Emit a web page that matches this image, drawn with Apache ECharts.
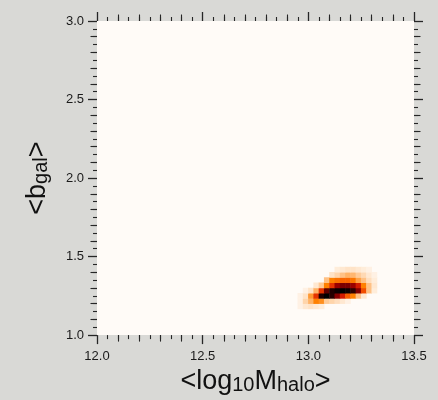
<!DOCTYPE html>
<html><head><meta charset="utf-8">
<script src="https://cdn.jsdelivr.net/npm/echarts@6/dist/echarts.min.js"></script>
<style>html,body{margin:0;padding:0;background:#d9d9d6;}#c{width:438px;height:400px;}</style>
</head><body><div id="c"></div>
<script>
// Axis ranges and tick labels
const xRange = [12.0, 13.5];
const yRange = [1.0, 3.0];
const xTickLabels = ['12.0', '12.5', '13.0', '13.5'];
const yTickLabels = ['1.0', '1.5', '2.0', '2.5', '3.0'];
// Histogram binning: 60 x 60 cells over the plot range
const xBinCount = 60;
const yBinCount = 60;
// Non-empty block of the 2D density, first column/row bin index
const blockCol0 = 38;
const blockRow0 = 5;
// density rows, from lower y bin upward; columns from blockCol0
const density = [
  [0.02,0.04,0.05,0.04,0.03,0,0,0,0,0,0,0,0,0,0,0],
  [0.02,0.08,0.15,0.25,0.22,0.10,0.08,0.06,0.04,0.02,0,0,0,0,0,0],
  [0.02,0.05,0.20,0.40,0.92,1.00,0.90,0.65,0.45,0.32,0.25,0.12,0.04,0,0,0],
  [0,0.02,0.05,0.15,0.40,0.75,0.92,0.97,1.00,0.97,0.88,0.65,0.35,0.12,0.03,0],
  [0,0,0,0.04,0.10,0.25,0.40,0.60,0.68,0.68,0.60,0.45,0.25,0.12,0.04,0],
  [0,0,0,0,0,0.12,0.25,0.28,0.30,0.30,0.27,0.18,0.12,0.06,0.03,0],
  [0,0,0,0,0,0,0.05,0.08,0.12,0.15,0.14,0.10,0.07,0.04,0.02,0],
  [0,0,0,0,0,0,0,0.03,0.04,0.05,0.05,0.04,0.03,0.02,0,0]
];

const xCats = [], yCats = [];
for (let i = 0; i < xBinCount; i++) xCats.push(String(i));
for (let j = 0; j < yBinCount; j++) yCats.push(String(j));
const heatData = [];
density.forEach((row, r) => row.forEach((v, c) => {
  if (v > 0) heatData.push([blockCol0 + c, blockRow0 + r, v]);
}));

const FONT = 'Liberation Sans';
const tickColor = '#262626';
function valueAxis(pos, range, ticks, main, showLabels, margin) {
  const fmt = v => { const s = v.toFixed(1); return ticks.indexOf(s) >= 0 ? s : ''; };
  return {
    type: 'value', position: pos, min: range[0], max: range[1], interval: 0.5,
    axisLine: {show: false}, splitLine: {show: false},
    axisTick: {show: main, length: 9, lineStyle: {color: tickColor, width: 1.3}},
    minorTick: {show: true, splitNumber: main ? 5 : 10, length: main ? 6.5 : 4,
      lineStyle: {color: tickColor, width: 1.1}},
    minorSplitLine: {show: false},
    axisLabel: {show: showLabels, fontSize: 13, color: '#1a1a1a', fontFamily: FONT, margin: margin || 12,
      showMinLabel: true, showMaxLabel: true, formatter: fmt},
    silent: true
  };
}
const nameRich = {
  m: {fontSize: 27, fontFamily: FONT, color: '#111', lineHeight: 30, verticalAlign: 'bottom'},
  s: {fontSize: 20, fontFamily: FONT, color: '#111', lineHeight: 21, verticalAlign: 'bottom'}
};

const xMainBottom = valueAxis('bottom', xRange, xTickLabels, true, true, 15);
xMainBottom.name = '{m|<log}{s|10}{m|M}{s|halo}{m|>}';
xMainBottom.nameLocation = 'middle';
xMainBottom.nameGap = 29;
xMainBottom.nameTextStyle = {rich: nameRich};
const yMainLeft = valueAxis('left', yRange, yTickLabels, true, true, 13);
yMainLeft.name = '{m|<b}{s|gal}{m|>}';
yMainLeft.nameLocation = 'middle';
yMainLeft.nameGap = 46;
yMainLeft.nameTextStyle = {rich: nameRich};

const chart = echarts.init(document.getElementById('c'), null, {renderer: 'canvas'});
chart.setOption({
  backgroundColor: '#d9d9d6',
  animation: false,
  grid: {left: 97, top: 21, right: 24, bottom: 62, show: true, backgroundColor: '#fffbf7', borderWidth: 0},
  xAxis: [
    {type: 'category', data: xCats, show: false, position: 'bottom'},
    xMainBottom,
    valueAxis('bottom', xRange, xTickLabels, false, false),
    valueAxis('top', xRange, xTickLabels, true, false),
    valueAxis('top', xRange, xTickLabels, false, false)
  ],
  yAxis: [
    {type: 'category', data: yCats, show: false, position: 'left'},
    yMainLeft,
    valueAxis('left', yRange, yTickLabels, false, false),
    valueAxis('right', yRange, yTickLabels, true, false),
    valueAxis('right', yRange, yTickLabels, false, false)
  ],
  visualMap: {
    show: false, min: 0, max: 1, seriesIndex: 0, dimension: 2,
    inRange: {color: ['#fffbf7', '#ffbf80', '#ff8000', '#ef4000', '#bf0000', '#8f0000', '#600000', '#300000', '#000000']}
  },
  series: [{
    type: 'heatmap', xAxisIndex: 0, yAxisIndex: 0, data: heatData,
    itemStyle: {borderWidth: 0}, emphasis: {disabled: true}, silent: true
  }]
});
</script></body></html>
